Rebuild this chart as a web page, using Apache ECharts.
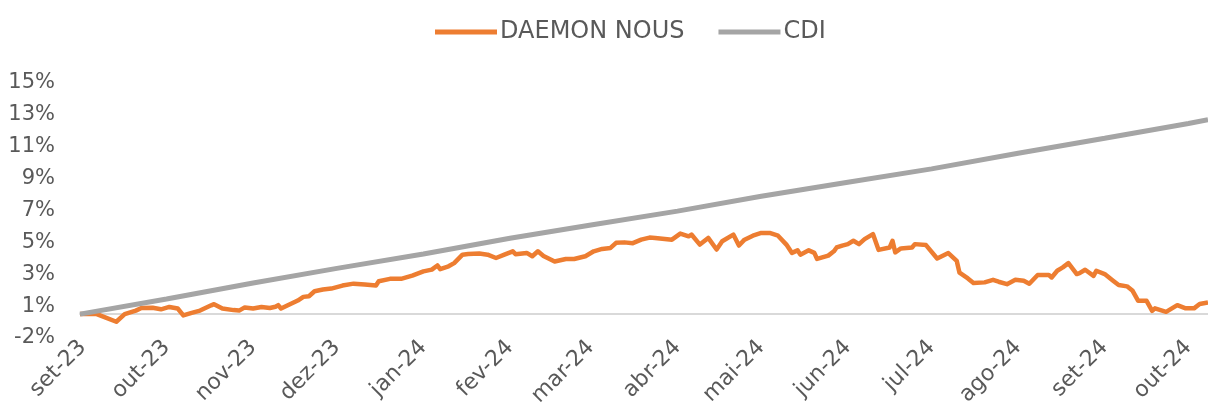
<!DOCTYPE html>
<html>
<head>
<meta charset="utf-8">
<script src="https://cdn.jsdelivr.net/npm/echarts@6/dist/echarts.min.js"></script>
<style>html,body{margin:0;padding:0;background:#fff}#c{width:1208px;height:408px}</style>
</head>
<body>
<div id="c"></div>
<script>
// ---- data (values in %) ----
const axisStart = '2023-08-31';
const axisEnd = '2024-10-08';
const monthNames = ['jan','fev','mar','abr','mai','jun','jul','ago','set','out','nov','dez'];
const yTickLabels = ['-2%','1%','3%','5%','7%','9%','11%','13%','15%'];

const daemonDates = ['2023-08-31','2023-09-06','2023-09-09','2023-09-13','2023-09-16','2023-09-20','2023-09-22','2023-09-26','2023-09-29','2023-10-02','2023-10-05','2023-10-07','2023-10-10','2023-10-13','2023-10-17','2023-10-18','2023-10-21','2023-10-25','2023-10-27','2023-10-29','2023-11-01','2023-11-04','2023-11-07','2023-11-09','2023-11-10','2023-11-11','2023-11-14','2023-11-17','2023-11-19','2023-11-21','2023-11-23','2023-11-26','2023-11-29','2023-12-03','2023-12-07','2023-12-11','2023-12-15','2023-12-16','2023-12-20','2023-12-24','2023-12-28','2024-01-01','2024-01-04','2024-01-06','2024-01-07','2024-01-10','2024-01-12','2024-01-15','2024-01-17','2024-01-21','2024-01-24','2024-01-27','2024-01-30','2024-02-02','2024-02-03','2024-02-07','2024-02-09','2024-02-11','2024-02-13','2024-02-17','2024-02-21','2024-02-24','2024-02-28','2024-03-02','2024-03-05','2024-03-08','2024-03-10','2024-03-13','2024-03-16','2024-03-19','2024-03-22','2024-03-24','2024-03-30','2024-04-02','2024-04-05','2024-04-06','2024-04-09','2024-04-12','2024-04-15','2024-04-17','2024-04-21','2024-04-23','2024-04-25','2024-04-28','2024-05-01','2024-05-04','2024-05-07','2024-05-10','2024-05-12','2024-05-14','2024-05-15','2024-05-18','2024-05-20','2024-05-21','2024-05-25','2024-05-27','2024-05-28','2024-05-30','2024-06-01','2024-06-03','2024-06-05','2024-06-07','2024-06-10','2024-06-12','2024-06-16','2024-06-17','2024-06-18','2024-06-20','2024-06-24','2024-06-25','2024-06-29','2024-07-03','2024-07-05','2024-07-07','2024-07-10','2024-07-11','2024-07-14','2024-07-16','2024-07-20','2024-07-23','2024-07-25','2024-07-28','2024-07-31','2024-08-03','2024-08-05','2024-08-08','2024-08-12','2024-08-13','2024-08-15','2024-08-17','2024-08-19','2024-08-22','2024-08-23','2024-08-25','2024-08-28','2024-08-29','2024-09-01','2024-09-04','2024-09-06','2024-09-09','2024-09-11','2024-09-13','2024-09-16','2024-09-18','2024-09-19','2024-09-23','2024-09-27','2024-09-30','2024-10-03','2024-10-05','2024-10-08'];
const daemonValues = [0,0.0,-0.2,-0.48,0.0,0.22,0.38,0.4,0.3,0.45,0.35,-0.08,0.08,0.22,0.55,0.62,0.35,0.25,0.22,0.42,0.35,0.45,0.38,0.46,0.56,0.35,0.6,0.85,1.08,1.12,1.43,1.54,1.6,1.79,1.91,1.85,1.79,2.06,2.21,2.21,2.41,2.68,2.79,3.05,2.82,3.0,3.2,3.73,3.77,3.8,3.73,3.52,3.73,3.94,3.75,3.84,3.63,3.94,3.65,3.3,3.46,3.46,3.63,3.94,4.09,4.15,4.47,4.5,4.45,4.67,4.8,4.78,4.67,5.05,4.88,4.99,4.36,4.78,4.05,4.57,4.99,4.3,4.67,4.92,5.09,5.09,4.92,4.36,3.84,4.0,3.73,4.0,3.84,3.46,3.67,3.94,4.18,4.3,4.39,4.6,4.39,4.7,5.02,4.03,4.18,4.6,3.87,4.12,4.18,4.39,4.33,3.49,3.66,3.83,3.34,2.6,2.24,1.95,1.99,2.15,2.03,1.88,2.15,2.09,1.9,2.45,2.45,2.3,2.72,2.93,3.2,2.51,2.57,2.78,2.4,2.72,2.51,2.09,1.82,1.74,1.46,0.83,0.83,0.2,0.36,0.14,0.56,0.36,0.36,0.63,0.73];

const cdiDates = ['2023-08-31','2023-10-01','2023-11-01','2023-12-01','2024-01-01','2024-02-01','2024-03-01','2024-04-01','2024-05-01','2024-06-01','2024-07-01','2024-08-01','2024-09-01','2024-10-01','2024-10-08'];
const cdiValues = [0,0.95,1.95,2.87,3.77,4.76,5.59,6.46,7.39,8.27,9.11,10.09,11.03,11.96,12.2];

// ---- build day categories for the date axis ----
function ymd(d){return d.toISOString().slice(0,10);}
const categories = [];
for (let t = Date.parse(axisStart + 'T00:00:00Z'); t <= Date.parse(axisEnd + 'T00:00:00Z'); t += 86400000) {
  categories.push(ymd(new Date(t)));
}
const catIndex = {};
categories.forEach((c,i)=>{catIndex[c]=i;});
const toPairs = (ds, vs) => ds.map((d,i)=>[catIndex[d], vs[i]]);

const FONT = 'DejaVu Sans';
const TXT = '#595959';

const chart = echarts.init(document.getElementById('c'), null, {renderer:'canvas'});
chart.setOption({
  animation: false,
  backgroundColor: '#fff',
  legend: {
    left: 430, top: 15,
    itemWidth: 62, itemHeight: 14, itemGap: 34,
    icon: 'path://M0,0 L62,0 L62,5 L0,5 Z',
    textStyle: {fontFamily: FONT, fontSize: 24, color: TXT, padding: [0,0,0,-2]},
    data: ['DAEMON NOUS','CDI']
  },
  grid: {left: 80, right: 0, top: 83, bottom: 70, containLabel: false, outerBoundsMode: 'none'},
  xAxis: {
    type: 'category',
    data: categories,
    boundaryGap: false,
    axisLine: {onZero: true, lineStyle: {color: '#D9D9D9', width: 2}},
    axisTick: {show: false},
    axisLabel: {
      interval: (idx, val) => val.slice(8) === '01',
      rotate: 45,
      margin: 6,
      fontFamily: FONT, fontSize: 22, color: TXT,
      formatter: (val) => monthNames[parseInt(val.slice(5,7),10)-1] + '-' + val.slice(2,4)
    },
    splitLine: {show: false}
  },
  yAxis: {
    type: 'value',
    min: -1.5, max: 14.5, interval: 2,
    axisLine: {show: false},
    axisTick: {show: false},
    splitLine: {show: false},
    axisLabel: {
      margin: 25,
      fontFamily: FONT, fontSize: 21, color: TXT,
      formatter: (v) => yTickLabels[Math.round((v + 1.5) / 2)]
    }
  },
  series: [
    {
      name: 'DAEMON NOUS', type: 'line', symbol: 'none',
      data: toPairs(daemonDates, daemonValues),
      lineStyle: {color: '#ED7D31', width: 4.5, join: 'round'},
      itemStyle: {color: '#ED7D31'}
    },
    {
      name: 'CDI', type: 'line', symbol: 'none',
      data: toPairs(cdiDates, cdiValues),
      lineStyle: {color: '#A5A5A5', width: 5},
      itemStyle: {color: '#A5A5A5'}
    }
  ]
});
</script>
</body>
</html>
